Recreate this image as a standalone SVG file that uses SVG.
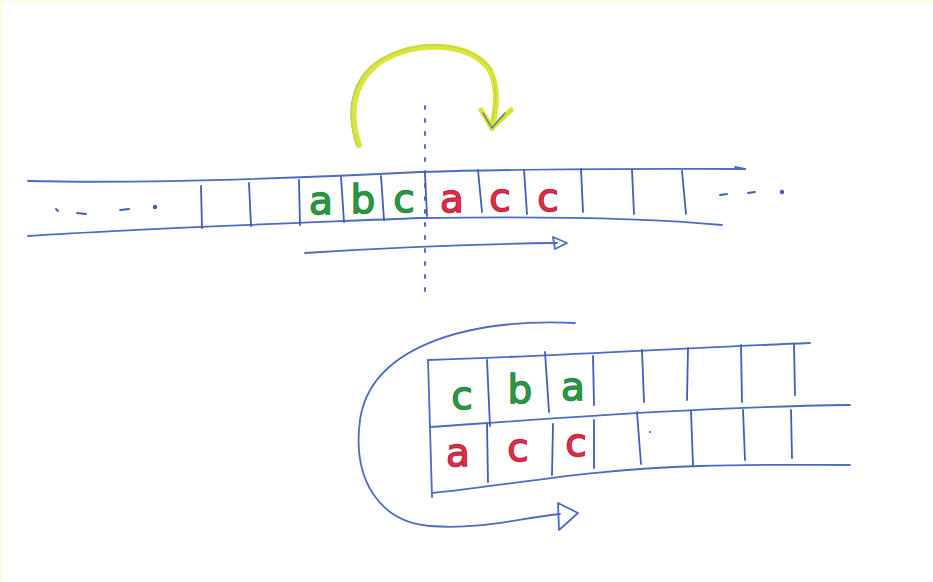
<svg xmlns="http://www.w3.org/2000/svg" width="933" height="582" viewBox="0 0 933 582">
<style>
.ink{fill:none;stroke:#4a6cc4;stroke-width:1.8;stroke-linecap:round;stroke-linejoin:round}
.tick{fill:none;stroke:#3f5fb8;stroke-width:1.8;stroke-linecap:round}
.g{font-family:"DejaVu Sans",sans-serif;font-size:39px;fill:#2a9a45;stroke:#2a8a40;stroke-width:1.4;text-anchor:middle}
.r{font-family:"DejaVu Sans",sans-serif;font-size:39px;fill:#e8303c;stroke:#c02848;stroke-width:1.4;text-anchor:middle}
.dot{fill:#3f5fb8}
</style>
<rect width="933" height="582" fill="#fffbe8"/>
<rect x="3" y="3" width="930" height="579" fill="#ffffff"/>

<g id="tape-top">
  <path class="ink" d="M28,181 C150,184 300,178 420,172 C550,168 650,169 745,169"/>
  <path class="ink" d="M735,167 L745,169"/>
  <path class="ink" d="M28,236 C150,228 300,223 420,218 C550,216 650,218 722,225"/>
  <g class="tick">
    <path d="M201,186 L202,228"/><path d="M249,183 L251,226"/><path d="M299,180 L300,225"/>
    <path d="M341,177 L344,222"/><path d="M381,176 L384,220"/><path d="M425,174 L427,216"/>
    <path d="M478,170 L482,212"/><path d="M524,170 L527,214"/><path d="M581,169 L583,212"/>
    <path d="M632,170 L634,214"/><path d="M682,171 L686,214"/>
  </g>
  <g class="tick">
    <path d="M56,209 L58,211"/><path d="M77,213 L86,214"/><path d="M120,210 L129,209"/><circle class="dot" cx="155" cy="207" r="1.3"/>
    <path d="M720,195 L727,194"/><path d="M748,193 L755,192"/><circle class="dot" cx="782" cy="192" r="1.3"/>
  </g>
  <text class="g" x="321" y="214">a</text>
  <text class="g" x="363" y="213">b</text>
  <text class="g" x="404" y="212">c</text>
  <text class="r" x="452" y="212">a</text>
  <text class="r" x="500" y="211">c</text>
  <text class="r" x="548" y="211">c</text>
</g>

<g id="cut-line">
  <path class="tick" d="M425,106 L425,298" stroke-dasharray="3,10" stroke-width="2"/>
</g>

<g id="tape-bottom">
  <path class="ink" d="M428,360 C560,356 700,347 810,343"/>
  <path class="ink" d="M430,427 C560,418 700,407 850,405"/>
  <path class="ink" d="M432,493 C520,484 580,470 700,466 C760,464 810,465 850,465"/>
  <path class="ink" d="M428,360 L432,497"/>
  <g class="tick">
    <path d="M487,360 L490,426"/><path d="M545,352 L549,412"/><path d="M593,356 L594,405"/>
    <path d="M642,350 L644,402"/><path d="M688,348 L687,400"/><path d="M741,345 L742,402"/><path d="M794,344 L795,395"/>
    <path d="M487,424 L488,482"/><path d="M553,424 L552,475"/><path d="M594,420 L594,468"/>
    <path d="M637,412 L641,464"/><path d="M691,411 L693,466"/><path d="M743,410 L745,460"/><path d="M791,410 L792,458"/>
  </g>
  <circle class="dot" cx="650" cy="432" r="1"/>
  <text class="g" x="462" y="409">c</text>
  <text class="g" x="520" y="403">b</text>
  <text class="g" x="573" y="400">a</text>
  <text class="r" x="458" y="466">a</text>
  <text class="r" x="518" y="461">c</text>
  <text class="r" x="576" y="456">c</text>
</g>

<g id="connectors">
  <path class="ink" d="M305,253 C380,248 470,244 557,243"/>
  <path class="ink" d="M553,237 L567,243 L555,249 Z"/>
  <path class="ink" d="M575,323 C460,318 370,350 360,420 C352,480 380,522 430,526 C480,530 520,518 560,514"/>
  <path class="ink" d="M558,503 L578,513 L559,530 Z"/>
  <path d="M357,146 C345,110 352,78 380,60 C415,38 470,40 490,68 C500,90 494,110 491,129" fill="none" stroke="#4a6cc4" stroke-width="1.5" stroke-linecap="round"/>
  <path d="M359,145 C347,110 355,78 383,60 C418,40 470,42 490,70 C500,92 495,112 492,128" fill="none" stroke="#d6e32a" stroke-width="6" stroke-linecap="round" opacity="0.9"/>
  <path d="M481,110 L492,128 L511,110" fill="none" stroke="#d6e32a" stroke-width="5" stroke-linecap="round" stroke-linejoin="round"/>
  <path d="M483,113 L492,128 L505,113" fill="none" stroke="#4a6cc4" stroke-width="1.2" stroke-linecap="round"/>
</g>
</svg>
